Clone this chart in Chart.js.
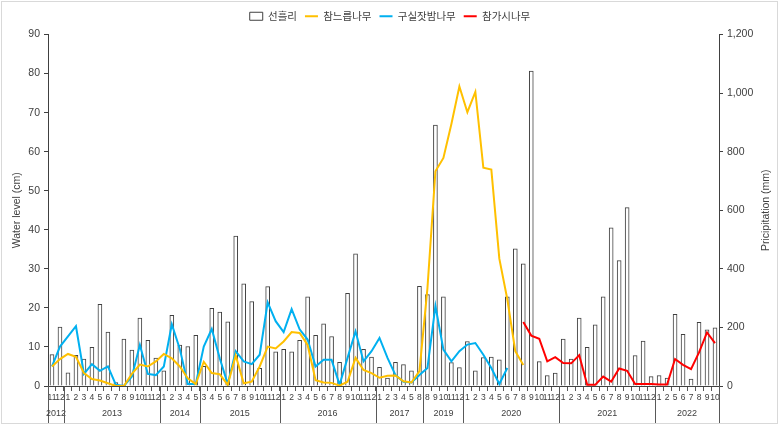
<!DOCTYPE html>
<html lang="ko">
<head>
<meta charset="utf-8">
<title>선흘리 수위와 강수량</title>
<script src="https://cdn.jsdelivr.net/npm/chart.js@4.4.1/dist/chart.umd.min.js"></script>
<style>
  html, body { margin: 0; padding: 0; background: #fff; }
  #chart { display: block; }
</style>
</head>
<body>
<canvas id="chart" width="780" height="426"></canvas>
<script>
const monthLabels = [
  "11", "12",
  "1", "2", "3", "4", "5", "6", "7", "8", "9", "10", "11", "12",
  "1", "2", "3", "4", "5",
  "3", "4", "5", "6", "7", "8", "9", "10", "11", "12",
  "1", "2", "3", "4", "5", "6", "7", "8", "9", "10", "11", "12",
  "1", "2", "3", "4", "5", "8",
  "8", "9", "10", "11", "12",
  "1", "2", "3", "4", "5", "6", "7", "8", "9", "10", "11", "12",
  "1", "2", "3", "4", "5", "6", "7", "8", "9", "10", "11", "12",
  "1", "2", "5", "6", "7", "8", "9", "10"
];

const yearNames = ["2012", "2013", "2014", "2015", "2016", "2017", "2019", "2020", "2021", "2022"];
const yearSpans = [2, 12, 5, 10, 12, 6, 5, 12, 12, 8];

// 선흘리 precipitation (mm), right axis
const precipitation = [
  107, 201,
  45, 105, 92, 132, 279, 184, 12, 160, 123, 232, 156, 95,
  52, 241, 140, 135, 173,
  67, 265, 252, 219, 512, 349, 288, 60, 339, 117,
  125, 117, 156, 304, 173, 212, 169, 81, 316, 451, 125, 99,
  64, 27, 81, 73, 52, 340,
  312, 891, 304, 80, 63,
  152, 52, 97, 99, 89, 304, 468, 417, 1075, 83, 36, 44,
  160, 92, 232, 132, 209, 304, 540, 428, 609, 104, 153, 32,
  36, 27, 245, 176, 24, 217, 192, 199
];

// water level (cm), left axis
const elmLevel = [
  5.0, 6.9,
  8.2, 7.5, 3.3, 1.8, 1.4, 0.7, 0, 0, 3.1, 5.5, 5.0, 6.3,
  8.2, 7.1, 5.0, 2.0, 0.5,
  6.2, 3.3, 3.0, 0.3, 7.8, 0.7, 1.1, 5.0, 10.1, 9.6,
  11.4, 13.8, 13.6, 10.5, 1.5, 0.9, 0.8, 0.1, 1.1, 7.2, 4.1, 3.3,
  2.1, 2.6, 2.7, 1.2, 0.9, 3.8,
  25.0, 55.0, 58.4, 67.1, 76.7,
  70.1, 75.3, 55.9, 55.4, 32.6, 22.2, 8.9, 5.4, null, null, null, null,
  null, null, null, null, null, null, null, null, null, null, null, null,
  null, null, null, null, null, null, null, null
];

const chinquapinLevel = [
  5.0, 10.1,
  12.7, 15.3, 3.1, 5.6, 3.9, 5.0, 0.3, 0, 2.4, 10.5, 3.1, 2.8,
  5.0, 15.8, 9.5, 0.5, 0.5,
  10.1, 14.6, 7.1, 0.5, 8.9, 6.3, 5.6, 8.0, 21.4, 16.6,
  13.8, 19.7, 14.5, 11.9, 5.0, 6.7, 6.7, 0.3, 7.2, 14.0, 6.3, 8.9,
  12.3, 7.2, 2.8, 1.1, 0.9, 2.8,
  4.6, 20.5, 9.3, 6.3, 8.9,
  10.6, 11.0, 8.0, 4.6, 0.5, 4.6, null, null, null, null, null, null,
  null, null, null, null, null, null, null, null, null, null, null, null,
  null, null, null, null, null, null, null, null
];

const oakLevel = [
  null, null,
  null, null, null, null, null, null, null, null, null, null, null, null,
  null, null, null, null, null,
  null, null, null, null, null, null, null, null, null, null,
  null, null, null, null, null, null, null, null, null, null, null, null,
  null, null, null, null, null, null,
  null, null, null, null, null,
  null, null, null, null, null, null, null, 16.4, 12.9, 12.1, 6.3, 7.4,
  5.9, 5.8, 7.9, 0.3, 0.3, 2.4, 1.1, 4.5, 3.9, 0.5, 0.5, 0.5,
  0.4, 0.4, 6.9, 5.4, 4.3, 8.6, 13.7, 11.0
];

const axisColor = "#404040";
const numFont = "'Liberation Sans', Arial, sans-serif";
const narrowFont = "'Liberation Sans Narrow', 'Liberation Sans', sans-serif";
const koFont = "'Noto Sans CJK KR', 'Noto Sans', sans-serif";

// make room under the legend and nudge it down a little
const legendSpacer = {
  id: "legendSpacer",
  beforeInit(chart) {
    const fit = chart.legend.fit;
    const draw = chart.legend.draw;
    chart.legend.fit = function () {
      fit.call(this);
      this.height += 6;
    };
    chart.legend.draw = function () {
      this.ctx.save();
      this.ctx.translate(0, 3);
      draw.call(this);
      this.ctx.restore();
    };
  }
};

// second row of x labels (years), right axis title, chart frame
const yearAxis = {
  id: "yearAxis",
  afterDraw(chart) {
    const { ctx } = chart;
    const x = chart.scales.x;
    const y1 = chart.scales.y1;
    const half = (x.getPixelForValue(1) - x.getPixelForValue(0)) / 2;
    ctx.save();
    ctx.strokeStyle = "#595959";
    ctx.lineWidth = 1;
    ctx.fillStyle = axisColor;
    ctx.font = "9px " + narrowFont;
    ctx.textAlign = "center";
    ctx.textBaseline = "middle";
    let start = 0;
    yearNames.forEach((name, i) => {
      const left = x.getPixelForValue(start) - half;
      const right = x.getPixelForValue(start + yearSpans[i] - 1) + half;
      const edges = i === yearNames.length - 1 ? [left, right] : [left];
      edges.forEach(px => {
        const lx = Math.round(px) + 0.5;
        ctx.beginPath();
        ctx.moveTo(lx, x.top);
        ctx.lineTo(lx, x.top + 37);
        ctx.stroke();
      });
      ctx.fillText(name, (left + right) / 2, x.top + 28);
      start += yearSpans[i];
    });

    ctx.translate(766, (y1.top + y1.bottom) / 2);
    ctx.rotate(-Math.PI / 2);
    ctx.font = "10.5px " + numFont;
    ctx.fillText("Pricipitation (mm)", 0, 0);
    ctx.setTransform(1, 0, 0, 1, 0, 0);

    ctx.strokeStyle = "#d9d9d9";
    ctx.strokeRect(1.5, 1.5, 776, 422);
    ctx.restore();
  }
};

new Chart(document.getElementById("chart").getContext("2d"), {
  data: {
    labels: monthLabels,
    datasets: [
      {
        type: "bar",
        label: "선흘리",
        data: precipitation,
        yAxisID: "y1",
        backgroundColor: "#ffffff",
        borderColor: axisColor,
        borderWidth: 1,
        barThickness: 4,
        order: 2
      },
      {
        type: "line",
        label: "참느릅나무",
        data: elmLevel,
        yAxisID: "y",
        borderColor: "#ffc000",
        borderWidth: 2,
        pointRadius: 0,
        tension: 0,
        order: 1
      },
      {
        type: "line",
        label: "구실잣밤나무",
        data: chinquapinLevel,
        yAxisID: "y",
        borderColor: "#00b0f0",
        borderWidth: 2,
        pointRadius: 0,
        tension: 0,
        order: 1
      },
      {
        type: "line",
        label: "참가시나무",
        data: oakLevel,
        yAxisID: "y",
        borderColor: "#ff0000",
        borderWidth: 2,
        pointRadius: 0,
        tension: 0,
        order: 1
      }
    ]
  },
  options: {
    responsive: false,
    animation: false,
    devicePixelRatio: 1,
    layout: { padding: 0 },
    plugins: {
      tooltip: { enabled: false },
      legend: {
        position: "top",
        labels: {
          usePointStyle: true,
          pointStyleWidth: 13,
          boxHeight: 8,
          padding: 8,
          color: axisColor,
          font: { family: koFont, size: 10.5 },
          generateLabels: chart => {
            const items = Chart.defaults.plugins.legend.labels.generateLabels(chart);
            items.forEach(item => {
              item.pointStyle = chart.data.datasets[item.datasetIndex].type === "bar" ? "rect" : "line";
            });
            return items.sort((a, b) => a.datasetIndex - b.datasetIndex);
          }
        }
      }
    },
    scales: {
      x: {
        type: "category",
        offset: true,
        grid: { offset: true, drawOnChartArea: false, tickLength: 5, color: "#595959" },
        border: { color: axisColor },
        ticks: {
          autoSkip: false,
          maxRotation: 0,
          minRotation: 0,
          padding: 2,
          color: axisColor,
          font: { family: narrowFont, size: 8.5 }
        },
        afterFit: scale => { scale.height = 40; }
      },
      y: {
        position: "left",
        min: 0,
        max: 90,
        ticks: { stepSize: 10, padding: 4, color: axisColor, font: { family: numFont, size: 10.5 } },
        grid: { drawOnChartArea: false, tickLength: 4, color: axisColor },
        border: { color: axisColor },
        title: {
          display: true,
          text: "Water level (cm)",
          color: axisColor,
          font: { family: numFont, size: 10.5 },
          padding: { top: 11, bottom: 0 }
        },
        afterFit: scale => { scale.width = 48; }
      },
      y1: {
        position: "right",
        min: 0,
        max: 1200,
        ticks: {
          stepSize: 200,
          padding: 4,
          color: axisColor,
          font: { family: numFont, size: 10.5 },
          callback: v => v.toLocaleString("en-US")
        },
        grid: { drawOnChartArea: false, tickLength: 4, color: axisColor },
        border: { color: axisColor },
        afterFit: scale => { scale.width = 61; }
      }
    }
  },
  plugins: [legendSpacer, yearAxis]
});
</script>
</body>
</html>
